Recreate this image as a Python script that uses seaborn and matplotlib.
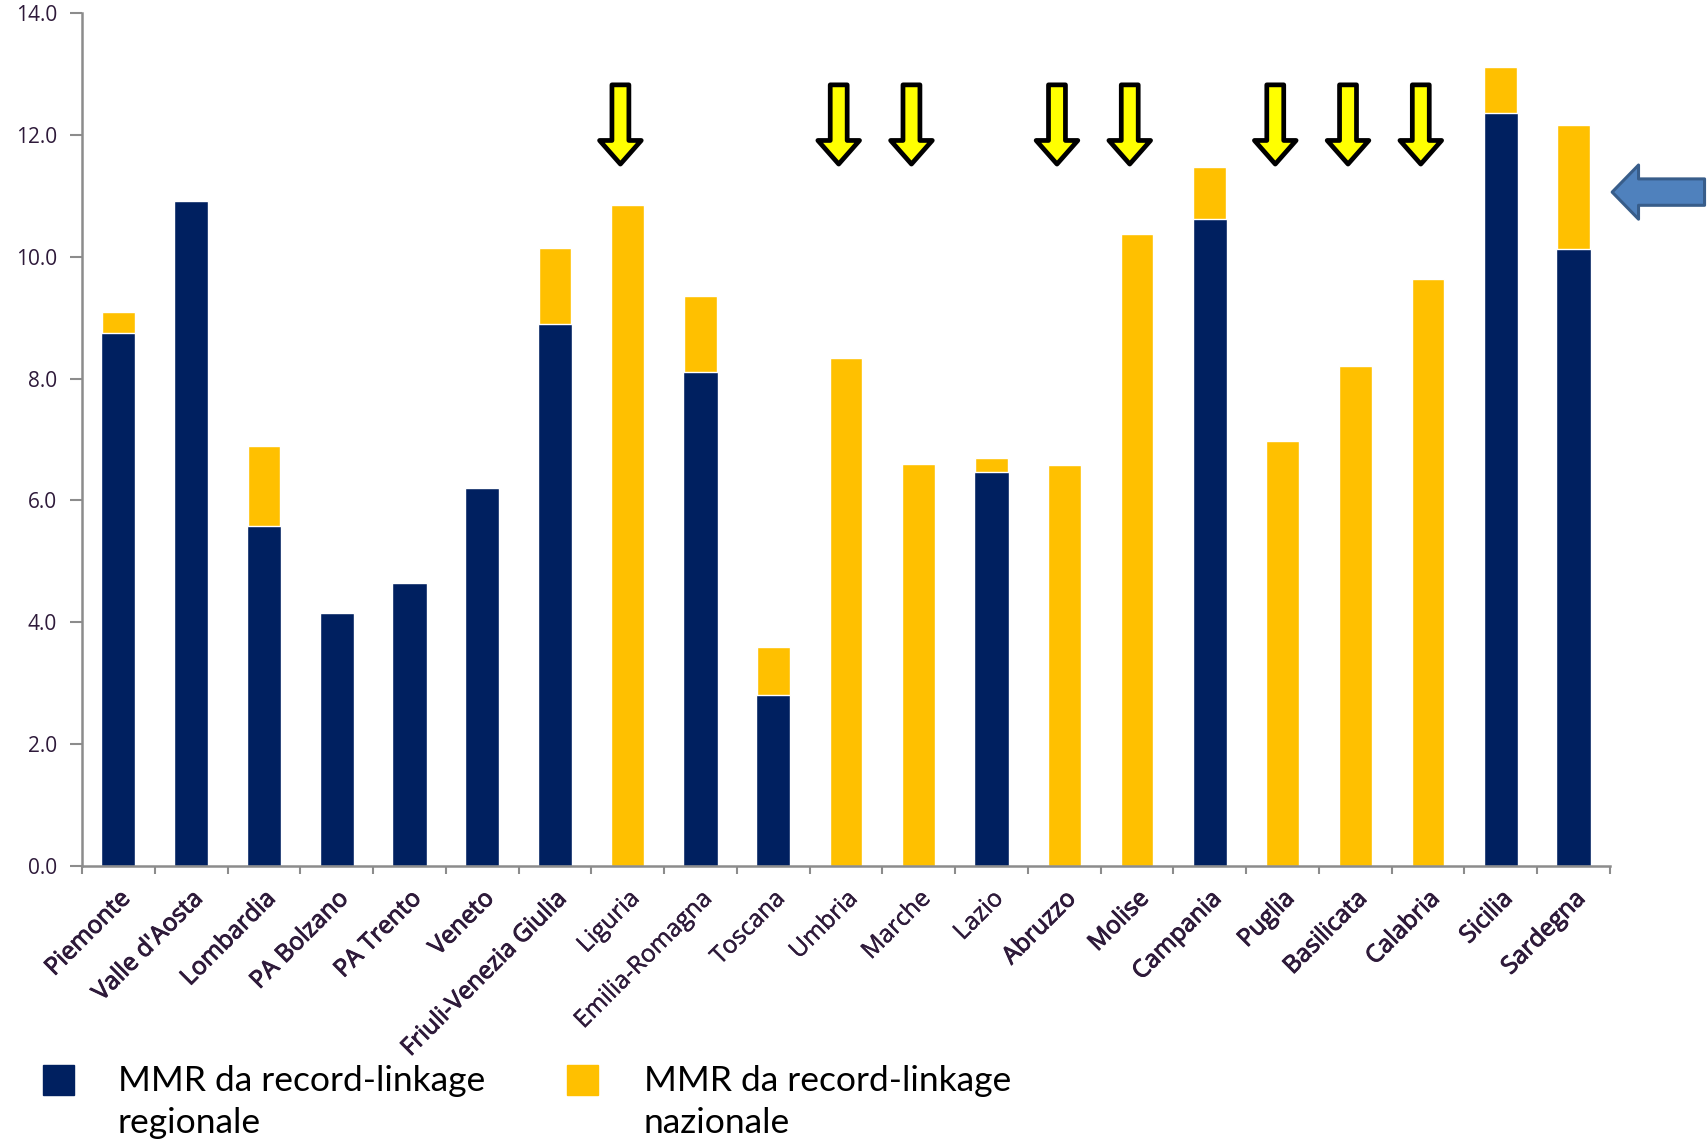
import matplotlib
matplotlib.use('Agg')
import matplotlib.pyplot as plt
import matplotlib.patches as mpatches
import matplotlib.patheffects as pe
from matplotlib.ticker import MultipleLocator, FormatStrFormatter
import seaborn as sns
import numpy as np
import pandas as pd

nan = np.nan

# regions in chart order
regions = ['Piemonte', "Valle d'Aosta", 'Lombardia', 'PA Bolzano', 'PA Trento', 'Veneto',
           'Friuli-Venezia Giulia', 'Liguria', 'Emilia-Romagna', 'Toscana', 'Umbria',
           'Marche', 'Lazio', 'Abruzzo', 'Molise', 'Campania', 'Puglia', 'Basilicata',
           'Calabria', 'Sicilia', 'Sardegna']

# MMR from regional record-linkage (navy)
mmr_regionale = [8.74, 10.92, 5.58, 4.15, 4.65, 6.20, 8.89, nan, 8.10, 2.81, nan,
                 nan, 6.47, nan, nan, 10.62, nan, nan, nan, 12.35, 10.12]

# MMR from national record-linkage (yellow)
mmr_nazionale = [9.10, nan, 6.90, nan, nan, nan, 10.14, 10.85, 9.35, 3.59, 8.33,
                 6.60, 6.70, 6.58, 10.37, 11.48, 6.97, 8.21, 9.64, 13.12, 12.16]

# regions flagged with a yellow arrow
arrow_regions = ['Liguria', 'Umbria', 'Marche', 'Abruzzo', 'Molise', 'Puglia',
                 'Basilicata', 'Calabria']
# region flagged with the blue arrow
blue_arrow_region = 'Sardegna'

# labels drawn in regular weight (the others look heavier)
plain_labels = ['Liguria', 'Emilia-Romagna', 'Toscana', 'Umbria', 'Marche', 'Lazio']

legend_labels = ['MMR da record-linkage\nregionale', 'MMR da record-linkage\nnazionale']

NAVY = '#002060'
GOLD = '#FFC000'
TXT = '#2E1A3A'
AXC = '#8C8C8C'

sns.set_style('white')
plt.rcParams['font.family'] = ['Open Sans', 'DejaVu Sans']

df = pd.DataFrame({'region': regions, 'regionale': mmr_regionale,
                   'nazionale': mmr_nazionale})

fig, ax = plt.subplots(figsize=(17.08, 11.46), dpi=100)
fig.subplots_adjust(left=0.048, right=0.9426, bottom=0.2443, top=0.9887)

sns.barplot(data=df, x='region', y='nazionale', color=GOLD, saturation=1,
            width=0.45, errorbar=None, ax=ax)
sns.barplot(data=df, x='region', y='regionale', color=NAVY, saturation=1,
            width=0.47, errorbar=None, ax=ax)

ax.set_xlim(-0.5, len(regions) - 0.5)
ax.set_ylim(0, 14)
ax.set_xlabel('')
ax.set_ylabel('')

ax.yaxis.set_major_locator(MultipleLocator(2))
ax.yaxis.set_major_formatter(FormatStrFormatter('%.1f'))
ax.tick_params(axis='y', direction='out', length=9, width=1.5, color=AXC,
               labelsize=15, labelcolor=TXT, pad=9, left=True)

ax.set_xticks(range(len(regions)))
ax.set_xticks(np.arange(-0.5, len(regions), 1), minor=True)
ax.tick_params(axis='x', which='major', length=0, pad=15)
ax.tick_params(axis='x', which='minor', direction='out', length=6, width=1.5,
               color=AXC, bottom=True)
ax.set_xticklabels(regions, rotation=45, ha='right', va='top',
                   rotation_mode='anchor', fontsize=17.5, color=TXT)
for lab in ax.get_xticklabels():
    if lab.get_text() in plain_labels:
        lab.set_path_effects([pe.withStroke(linewidth=0.3, foreground=TXT)])
    else:
        lab.set_path_effects([pe.withStroke(linewidth=0.7, foreground=TXT)])

for side in ['top', 'right']:
    ax.spines[side].set_visible(False)
for side in ['left', 'bottom']:
    ax.spines[side].set_color(AXC)
    ax.spines[side].set_linewidth(1.8)

# yellow down arrows
for reg in arrow_regions:
    i = regions.index(reg)
    ax.annotate('', xy=(i - 0.1, 11.52), xytext=(i - 0.1, 12.82),
                arrowprops=dict(arrowstyle='simple,head_length=1.7,head_width=3.0,tail_width=1.22',
                                mutation_scale=10, fc='#FFFF00', ec='black', lw=3.4,
                                shrinkA=0, shrinkB=0),
                annotation_clip=False)

# blue left arrow
j = regions.index(blue_arrow_region)
ax.annotate('', xy=(j + 0.53, 11.06), xytext=(j + 1.8, 11.06),
            arrowprops=dict(arrowstyle='simple,head_length=1.9,head_width=3.9,tail_width=1.9',
                            mutation_scale=10, fc='#4F81BD', ec='#385D8A', lw=2.2,
                            shrinkA=0, shrinkB=0),
            annotation_clip=False)

# legend: square + two-line label per series, first line beside the square
W, H = fig.get_size_inches() * fig.dpi
legend_colors = [NAVY, GOLD]
square_x = [43, 567]
text_x = [118, 644]
for col, sx, tx, lab in zip(legend_colors, square_x, text_x, legend_labels):
    fig.add_artist(mpatches.Rectangle((sx / W, 1 - 1095 / H), 31 / W, 30 / H,
                                      transform=fig.transFigure, color=col))
    fig.text(tx / W, 1 - 1065 / H, lab, ha='left', va='top', fontsize=25.5,
             family='Lato', color='black', linespacing=1.4)

plt.savefig('out.png', dpi=100)
plt.close()
